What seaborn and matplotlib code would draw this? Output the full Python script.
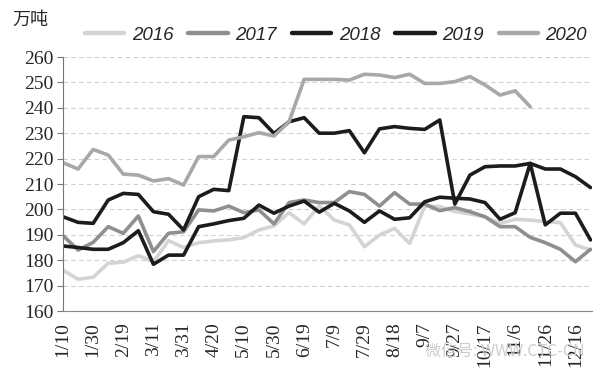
import numpy as np
import pandas as pd
import seaborn as sns
from matplotlib import pyplot as plt

# ten-day points, 1/10 .. 12/26
dates = ['1/10', '1/20', '1/30', '2/9', '2/19', '3/1', '3/11', '3/21', '3/31',
         '4/10', '4/20', '4/30', '5/10', '5/20', '5/30', '6/9', '6/19', '6/29',
         '7/9', '7/19', '7/29', '8/8', '8/18', '8/28', '9/7', '9/17', '9/27',
         '10/7', '10/17', '10/27', '11/6', '11/16', '11/26', '12/6', '12/16', '12/26']

y2016 = [176.1, 172.5, 173.3, 178.8, 179.2, 181.8, 179.4, 187.7, 185.0, 186.9,
         187.6, 188.0, 188.9, 191.9, 193.5, 198.7, 194.3, 201.4, 195.8, 193.9,
         185.3, 189.9, 192.5, 186.6, 201.3, 201.1, 199.2, 198.2, 197.1, 194.5,
         196.1, 195.8, 195.2, 194.8, 186.0, 184.0]
y2017 = [189.7, 184.0, 187.0, 193.2, 190.6, 197.4, 183.4, 190.6, 191.2, 199.8,
         199.4, 201.3, 198.7, 199.8, 194.3, 202.7, 203.7, 202.7, 202.7, 207.0,
         205.9, 201.3, 206.6, 202.1, 202.1, 199.5, 200.7, 199.1, 197.1, 193.2,
         193.2, 189.0, 186.9, 184.3, 179.4, 184.3]
y2018 = [185.6, 185.0, 184.3, 184.3, 186.9, 191.6, 178.4, 182.0, 182.0, 193.2,
         194.3, 195.6, 196.5, 201.7, 198.5, 201.3, 203.3, 198.9, 202.4, 199.4,
         194.9, 199.4, 196.1, 196.7, 203.0, 204.8, 204.4, 204.1, 202.7, 196.1,
         198.7, 218.1, 193.9, 198.5, 198.5, 188.0]
y2019 = [197.1, 194.9, 194.5, 203.7, 206.3, 205.9, 199.1, 198.1, 191.9, 205.0,
         207.9, 207.4, 236.5, 236.1, 229.9, 234.5, 236.1, 230.0, 230.0, 231.0,
         222.3, 231.7, 232.6, 231.9, 231.5, 235.2, 202.1, 213.5, 216.8, 217.1,
         217.1, 218.1, 215.9, 215.9, 212.9, 208.6]
y2020 = [218.4, 215.9, 223.6, 221.4, 213.9, 213.5, 211.2, 212.1, 209.6, 220.8,
         220.8, 227.3, 228.6, 230.2, 228.9, 234.5, 251.2, 251.2, 251.2, 250.9,
         253.2, 252.9, 251.9, 253.2, 249.6, 249.6, 250.3, 252.3, 249.0, 245.0,
         246.7, 240.4]

years = ['2016', '2017', '2018', '2019', '2020']
series = [y2016, y2017, y2018, y2019, y2020]
colors = {'2016': '#d4d4d4', '2017': '#8f8f8f', '2018': '#1c1c1c',
          '2019': '#1c1c1c', '2020': '#a8a8a8'}

rows = []
for yr, vals in zip(years, series):
    for i, v in enumerate(vals):
        rows.append({'idx': i, 'value': v, 'year': yr})
df = pd.DataFrame(rows)

sns.set_style('white')
plt.rcParams['font.family'] = ['Liberation Serif', 'Noto Sans CJK SC', 'DejaVu Sans']

fig = plt.figure(figsize=(6.03, 3.78), dpi=100)
ax = fig.add_axes([63 / 603, 1 - 311 / 378, 529 / 603, 254 / 378])

sns.lineplot(data=df, x='idx', y='value', hue='year', palette=colors,
             hue_order=years, linewidth=2.6, ax=ax, legend=False)

ax.set_xlim(0, 35.1)
ax.set_ylim(160, 260)
ax.set_yticks(np.arange(160, 261, 10))
ax.yaxis.grid(True, linestyle=(0, (4, 3)), color='#d0d0d0', linewidth=0.8)
ax.set_axisbelow(True)
ax.set_xticks(range(0, len(dates), 2))
ax.set_xticklabels(dates[::2], rotation=90, fontsize=14)
ax.tick_params(axis='x', length=0, pad=8)
ax.tick_params(axis='y', length=4, color='#777777', direction='out', labelsize=14, pad=3)
ax.tick_params(axis='y', left=True)
ax.set_xlabel('')
ax.set_ylabel('')
for s in ['top', 'right']:
    ax.spines[s].set_visible(False)
ax.spines['left'].set_color('#777777')
ax.spines['bottom'].set_color('#888888')

fig.text(12 / 603, 1 - 20 / 378, '万吨', fontsize=13, va='center', ha='left',
         family=['Noto Sans CJK SC', 'DejaVu Sans'])

handles = [plt.Line2D([], [], color=colors[y], linewidth=3.2) for y in years]
fig.legend(handles, years, loc='center', bbox_to_anchor=(336 / 603, 1 - 35 / 378),
           ncol=5, frameon=False, handlelength=2.1, handletextpad=0.4,
           columnspacing=0.8,
           prop={'family': 'Liberation Sans', 'style': 'italic', 'size': 13.5})

fig.text(505 / 603, 1 - 351 / 378, '微信号: WWW.CTC-CN', fontsize=11.5, color='#cccccc',
         ha='center', va='center', family=['Noto Sans CJK SC', 'DejaVu Sans'])

fig.savefig('out.png', dpi=100)
